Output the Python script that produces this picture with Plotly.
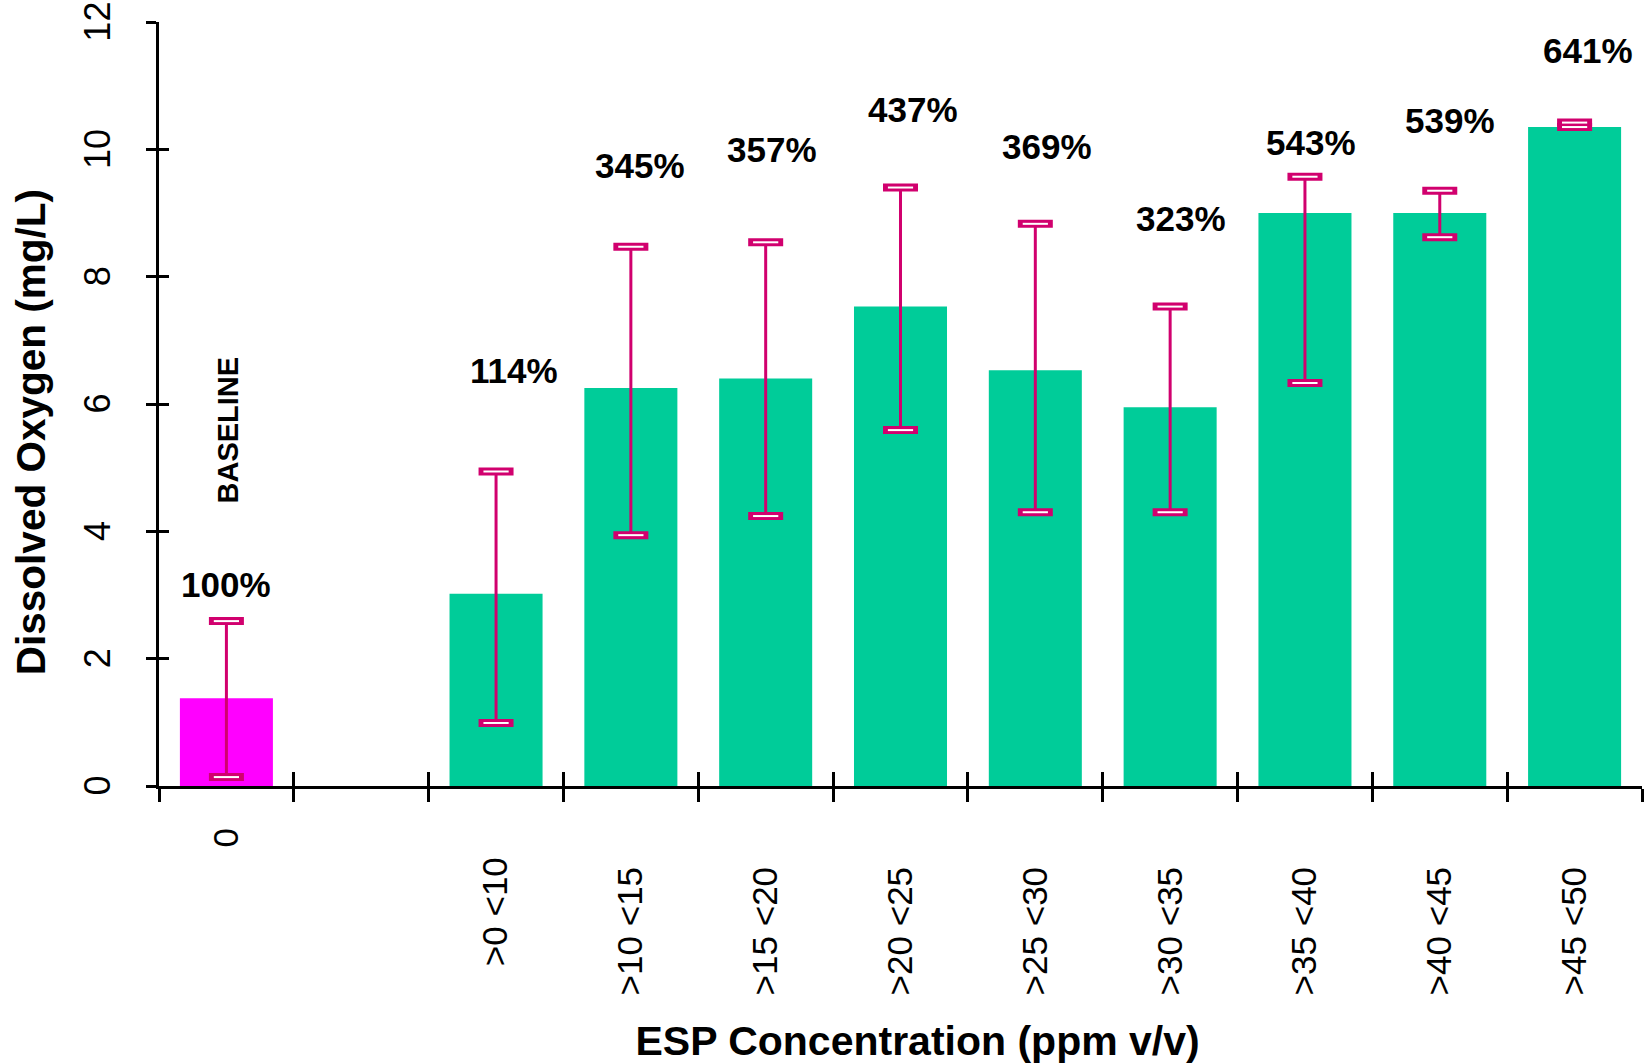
import plotly.graph_objects as go

# ---------------- data ----------------
categories = ["0", " ", ">0 <10", ">10 <15", ">15 <20", ">20 <25",
              ">25 <30", ">30 <35", ">35 <40", ">40 <45", ">45 <50"]
do_mean = [1.38, None, 3.02, 6.25, 6.40, 7.53, 6.53, 5.95, 9.00, 9.00, 10.35]
err_plus = [1.21, None, 1.92, 2.22, 2.14, 1.87, 2.30, 1.58, 0.57, 0.35, 0.07]
err_minus = [1.24, None, 2.03, 2.31, 2.16, 1.94, 2.23, 1.65, 2.67, 0.38, 0.0]
pct_labels = ["100%", "", "114%", "345%", "357%", "437%", "369%",
              "323%", "543%", "539%", "641%"]
tick_labels = ["0", "", ">0 <10", ">10 <15", ">15 <20", ">20 <25",
               ">25 <30", ">30 <35", ">35 <40", ">40 <45", ">45 <50"]
y_ticks = [0, 2, 4, 6, 8, 10, 12]
x_title = "ESP Concentration (ppm v/v)"
y_title = "Dissolved Oxygen (mg/L)"

# ---------------- layout helpers (placement, not data) ----------------
label_y = [3.16, None, 6.53, 9.75, 9.99, 10.63, 10.05, 8.91, 10.11, 10.46, 11.56]
label_dx = [0, 0, 18, 9, 6, 12, 12, 11, 6, 10, 13]
tick_pad = [0, 0, 3, 4, 4, 4, 4, 4, 4, 4, 4]

FONT = "Arial, 'Liberation Sans', Helvetica, sans-serif"
GREEN = "#00CC99"
MAGENTA = "#FF00FF"
ERR = "#D1006E"

bar_colors = [MAGENTA if i == 0 else GREEN for i in range(len(categories))]

fig = go.Figure()

fig.add_trace(go.Bar(
    x=categories, y=do_mean,
    marker=dict(color=bar_colors, line=dict(width=0)),
    error_y=dict(type="data", symmetric=False, array=err_plus,
                 arrayminus=err_minus, color=ERR, thickness=3, width=0),
    showlegend=False, hoverinfo="skip",
))

# error-bar caps (hollow look): computed from the data
cap_x, cap_y = [], []
for c, m, p, n in zip(categories, do_mean, err_plus, err_minus):
    if m is None:
        continue
    cap_x += [c, c]
    cap_y += [m + p, m - n]

fig.add_trace(go.Scatter(
    x=cap_x, y=cap_y, mode="markers",
    marker=dict(symbol="line-ew", size=25, line=dict(color=ERR, width=8)),
    showlegend=False, hoverinfo="skip",
))
fig.add_trace(go.Scatter(
    x=cap_x, y=cap_y, mode="markers",
    marker=dict(symbol="line-ew", size=18, line=dict(color="white", width=2)),
    showlegend=False, hoverinfo="skip",
))

# invisible trace carrying the overlay axes (for crossing ticks)
fig.add_trace(go.Scatter(
    x=categories, y=[0] * len(categories), xaxis="x2", yaxis="y2",
    mode="markers", marker=dict(opacity=0), showlegend=False, hoverinfo="skip",
))

# percentage labels
for c, t, ly, dx in zip(categories, pct_labels, label_y, label_dx):
    if not t:
        continue
    fig.add_annotation(x=c, y=ly, text=t, showarrow=False, xshift=dx,
                       font=dict(family=FONT, size=35, color="black", weight="bold"),
                       xanchor="center", yanchor="middle")

fig.add_annotation(x=categories[0], y=5.59, text="BASELINE", textangle=-90,
                   showarrow=False, xshift=2,
                   font=dict(family=FONT, size=29, color="black", weight="bold"))

nbsp = "\u00a0"
ticktext = [t + nbsp * k for t, k in zip(tick_labels, tick_pad)]

fig.update_layout(
    template="none",
    width=1646, height=1064,
    margin=dict(l=159, r=4, t=22, b=278, autoexpand=False),
    paper_bgcolor="white", plot_bgcolor="white",
    bargap=0.31,
    xaxis=dict(
        type="category", categoryorder="array", categoryarray=categories,
        range=[-0.5, len(categories) - 0.5],
        tickmode="array", tickvals=categories, ticktext=ticktext,
        tickson="boundaries", ticks="outside", ticklen=13, tickwidth=3,
        tickcolor="black", showline=True, linewidth=3, linecolor="black",
        showgrid=False, zeroline=False, tickangle=-90,
        tickfont=dict(family=FONT, size=35, color="black"),
        ticklabelstandoff=25,
        title=dict(text="<b>" + nbsp * 3 + x_title + "</b>",
                   font=dict(family=FONT, size=41, color="black"), standoff=36),
        automargin=False,
    ),
    yaxis=dict(
        range=[0, 12], tickmode="array", tickvals=y_ticks,
        ticks="outside", ticklen=10, tickwidth=3, tickcolor="black",
        showline=True, linewidth=3, linecolor="black", showgrid=False,
        zeroline=False, tickangle=-90, ticklabeloverflow="allow",
        tickfont=dict(family=FONT, size=36, color="black"),
        ticklabelstandoff=22, ticklabelshift=5,
        title=dict(text="<b>" + y_title + nbsp * 5 + "</b>",
                   font=dict(family=FONT, size=40.5, color="black"), standoff=19),
        automargin=False,
    ),
    xaxis2=dict(
        type="category", categoryorder="array", categoryarray=categories,
        range=[-0.5, len(categories) - 0.5], overlaying="x", anchor="y2",
        tickmode="array", tickvals=categories,
        tickson="boundaries", ticks="inside", ticklen=14, tickwidth=3,
        tickcolor="black", showticklabels=False, showline=False,
        showgrid=False, zeroline=False, automargin=False,
    ),
    yaxis2=dict(
        range=[0, 12], overlaying="y", anchor="x2", tickmode="array",
        tickvals=y_ticks, ticks="inside", ticklen=10, tickwidth=3,
        tickcolor="black", showticklabels=False, showline=False,
        showgrid=False, zeroline=False, automargin=False,
    ),
)

fig.write_html("out.html", config={"displayModeBar": False},
               post_script="document.body.style.margin='0';document.body.style.overflow='hidden';")
